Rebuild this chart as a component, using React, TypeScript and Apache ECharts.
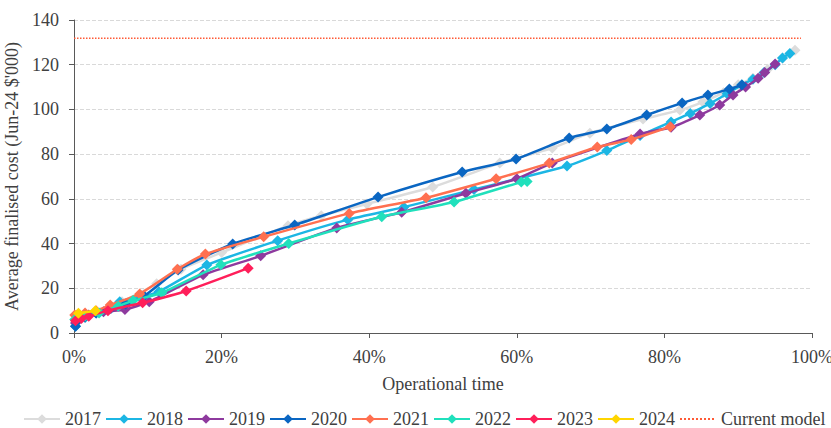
import React, { useEffect, useRef } from "react";
import * as echarts from "echarts";

type P = [number, number];

const s2017: P[] = [[0.3,5],[3,9],[6.5,14],[11.2,22],[14.5,28.5],[20,36],[29,48],[33.5,52.5],[39.7,57.7],[48.6,65.3],[57.7,76],[64.8,82.7],[69.9,89.4],[77.1,95.7],[82.1,99.7],[85.2,103.3],[88,107.5],[90,111],[92,114],[94,118],[96,123],[97.7,126.5]];
const s2018: P[] = [[0.2,3],[1.5,7],[3,9],[6.2,14],[9,16],[11.5,18.5],[18,30.4],[27.6,41.3],[37.1,50.7],[44.7,56.3],[54.2,64.2],[66.8,74.7],[72.2,81.6],[76.7,88.3],[80.9,94.4],[83.5,98.2],[86.2,102.7],[88.5,107],[90.5,111],[92,113.5],[93.5,116.5],[95,120],[96,123],[97,125]];
const s2019: P[] = [[0.2,4.5],[2,8],[4,9.5],[6.9,10.5],[10.2,14],[17.5,26],[25.3,34.5],[35.6,47],[44.4,54],[53.1,62.5],[60,69],[64.8,76],[76.7,89],[80.9,92],[84.8,97.5],[87.5,102],[89.3,106.5],[91,110],[92.7,114],[93.6,116.5],[95,120.3]];
const s2020: P[] = [[0.2,3],[1.5,7],[3,9],[5,11],[7,13],[9.5,16.5],[14.1,28.2],[21.5,39.8],[29.9,48.3],[41.2,60.8],[52.6,72],[59.9,77.8],[67.1,87.2],[72.2,91.2],[77.6,97.5],[82.4,102.9],[85.9,106.4],[88.8,109.1],[90.5,110.9]];
const s2021: P[] = [[0.1,8],[1.5,9],[3,10],[4.9,12.5],[8.9,17.5],[14,28.5],[17.8,35.3],[25.7,43],[37.3,53.5],[47.7,60.5],[57.2,69],[64.4,76],[70.9,83.2],[75.5,86.5],[80.8,92.3]];
const s2022: P[] = [[0.1,6],[1.5,7.5],[3.4,9],[6,12],[8,14.5],[11.9,18],[19.9,30.5],[29.1,40],[41.7,52],[51.5,58.6],[60.6,67.5],[61.4,67.8]];
const s2023: P[] = [[0.2,5.5],[1,6.5],[2,7.5],[4.6,10],[9.3,13.5],[15.2,18.8],[23.6,29]];
const s2024: P[] = [[0.6,8.8],[2.9,10]];
const currentModel: P[] = [[0,131.8],[98.5,131.8]];

const years = ["2017","2018","2019","2020","2021","2022","2023","2024"];
const yearData = [s2017, s2018, s2019, s2020, s2021, s2022, s2023, s2024];
const colors = ["#DCDCDC","#1CB6E4","#8E3A9E","#0A66C2","#FF7050","#20E0BC","#FF1F5A","#FFD500"];

const FONT = "Liberation Serif";
const FS = 18;

export default function App() {
  const ref = useRef<HTMLDivElement>(null);
  useEffect(() => {
    if (!ref.current) return;
    const chart = echarts.init(ref.current, null, { renderer: "svg" });
    const series: any[] = years.map((y, i) => ({
      name: y,
      type: "line",
      data: yearData[i],
      smooth: 0.2,
      symbol: "diamond",
      symbolSize: 11,
      color: colors[i],
      lineStyle: { width: 2.5, color: colors[i] },
      itemStyle: { color: colors[i] },
      z: 2 + i,
    }));
    series.push({
      name: "Current model",
      type: "line",
      data: currentModel,
      symbol: "none",
      color: "#FF5A36",
      lineStyle: { width: 1.5, type: "dotted", color: "#FF5A36" },
      z: 1,
    });
    chart.setOption({
      animation: false,
      textStyle: { fontFamily: FONT },
      grid: { left: 74, right: 19, top: 20, bottom: 95, outerBoundsMode: "none" },
      legend: {
        top: 405,
        left: 18,
        width: 813,
        itemWidth: 36,
        itemHeight: 12,
        itemGap: 4,
        textStyle: { fontFamily: FONT, fontSize: FS, color: "#404040" },
        data: [
          ...years,
          { name: "Current model", itemStyle: { opacity: 0, color: "rgba(0,0,0,0)", borderWidth: 0 } },
        ],
      },
      xAxis: {
        type: "value",
        min: 0,
        max: 100,
        interval: 20,
        name: "Operational time",
        nameLocation: "middle",
        nameGap: 42,
        nameTextStyle: { fontFamily: FONT, fontSize: FS, color: "#404040" },
        axisLine: { show: true, lineStyle: { color: "#595959", width: 1 } },
        axisTick: { show: true, lineStyle: { color: "#595959" }, length: 5 },
        axisLabel: { formatter: "{value}%", fontFamily: FONT, fontSize: FS, color: "#404040", margin: 15 },
        splitLine: { show: false },
      },
      yAxis: {
        type: "value",
        min: 0,
        max: 140,
        interval: 20,
        name: "Average finalised cost (Jun-24 $'000)",
        nameLocation: "middle",
        nameGap: 47,
        nameTextStyle: { fontFamily: FONT, fontSize: FS, color: "#404040" },
        axisLine: { show: true, lineStyle: { color: "#595959", width: 1 } },
        axisTick: { show: true, lineStyle: { color: "#595959" }, length: 5 },
        axisLabel: { fontFamily: FONT, fontSize: FS, color: "#404040", margin: 15 },
        splitLine: { show: true, lineStyle: { color: "#D9D9D9", type: "dashed", width: 1 } },
      },
      series,
    });
    return () => chart.dispose();
  }, []);
  return <div ref={ref} style={{ width: 831, height: 428, position: "absolute", left: 0, top: 0, background: "#fff" }} />;
}
